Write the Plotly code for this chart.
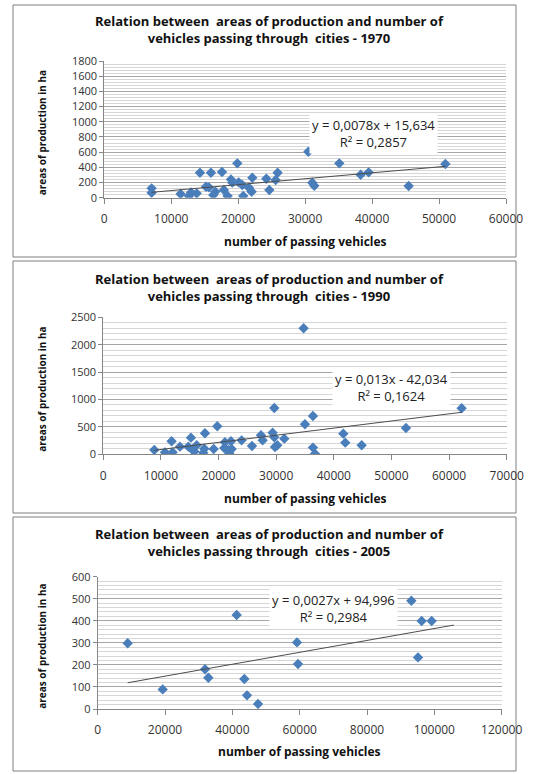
import plotly.graph_objects as go

W, H = 542, 774

# ---------------- data ----------------
x1970 = [7070, 7070, 11400, 12650, 12950, 13800, 14290, 15190, 15630, 15930, 16280, 16580,
         17580, 17870, 18420, 18920, 19120, 19870, 20070, 20610, 20760, 21610, 22010, 22110,
         24200, 24650, 25590, 25890, 30470, 31070, 31370, 35100, 38290, 39480, 45460, 50940]
y1970 = [123, 66, 48, 22, 70, 57, 329, 145, 136, 329, 35, 79,
         338, 101, 22, 241, 198, 452, 202, 167, 22, 132, 79, 263,
         250, 101, 233, 329, 606, 198, 158, 452, 303, 334, 154, 443]

x1990 = [8850, 10700, 12030, 11850, 13300, 15210, 14750, 15500, 16200, 15790, 17350, 17640,
         17530, 19150, 19780, 21110, 20990, 21690, 21860, 22150, 22270, 24000, 25800, 27360,
         27650, 29670, 29380, 29670, 29790, 30190, 31410, 34760, 34990, 36380, 36380, 36730,
         41650, 41990, 44830, 52520, 62180]
y1990 = [79, 36, 36, 237, 140, 304, 140, 79, 164, 49, 30, 383,
         103, 97, 511, 219, 116, 79, 18, 237, 97, 255, 152, 347,
         255, 846, 395, 310, 134, 164, 286, 2299, 547, 699, 122, 12,
         377, 213, 164, 481, 839]

x2005 = [8910, 19300, 31880, 32870, 41280, 43560, 44350, 47620, 59200, 59500,
         93160, 95140, 96230, 99200]
y2005 = [298, 89, 180, 142, 426, 136, 62, 23, 302, 204,
         491, 234, 399, 399]

years = ["1970", "1990", "2005"]
slopes = [0.0078, 0.013, 0.0027]
intercepts = [15.634, -42.034, 94.996]
eq_texts = ["y = 0,0078x + 15,634", "y = 0,013x - 42,034", "y = 0,0027x + 94,996"]
r2_texts = ["R² = 0,2857", "R² = 0,1624", "R² = 0,2984"]
x_ranges = [[0, 60000], [0, 70000], [0, 120000]]
x_dticks = [10000, 10000, 20000]
y_ranges = [[0, 1800], [0, 2500], [0, 600]]
y_dticks = [200, 500, 100]
trend_x_end = [50940, 62180, 105800]

title_tpl = "Relation between  areas of production and number of<br>vehicles passing through  cities - {}"
x_title = "number of passing vehicles"
y_title = "areas of production in ha"

# ---------------- layout geometry (pixels) ----------------
plot_px = [  # left, right, top, bottom
    (104.3, 506.0, 61.0, 197.7),
    (103.3, 506.7, 317.3, 454.3),
    (97.7, 501.7, 576.7, 709.0),
]
panel_px = [(13, 516, 5, 257), (13, 516, 261, 513), (13, 516, 517, 771)]
title_y = [30, 287, 542]
xtitle_y = [241, 498, 751]
box_px = [(373.5, 134), (391.5, 387.5), (333.5, 608)]

def px(x):
    return x / W

def py(y):
    return 1 - y / H

FONT = "Open Sans"
BLUE = "#4A7EBB"
AXIS = "#868686"

fig = go.Figure()
xs = [x1970, x1990, x2005]
ys = [y1970, y1990, y2005]

layout = dict(
    width=W, height=H,
    margin=dict(l=0, r=0, t=0, b=0, autoexpand=False),
    paper_bgcolor="white", plot_bgcolor="white",
    showlegend=False,
    font=dict(family=FONT, color="#222"),
)
annotations = []
shapes = []

for i in range(3):
    sfx = "" if i == 0 else str(i + 1)
    xa, ya = "x" + sfx, "y" + sfx
    fig.add_trace(go.Scatter(
        x=xs[i], y=ys[i], mode="markers", xaxis=xa, yaxis=ya,
        marker=dict(symbol="diamond", size=8, color=BLUE, line=dict(width=0)),
    ))
    x0 = min(xs[i]); x1 = trend_x_end[i]
    fig.add_trace(go.Scatter(
        x=[x0, x1], y=[slopes[i] * x0 + intercepts[i], slopes[i] * x1 + intercepts[i]],
        mode="lines", xaxis=xa, yaxis=ya,
        line=dict(color="#4d4d4d", width=1),
    ))
    l, r, t, b = plot_px[i]
    layout["xaxis" + sfx] = dict(
        domain=[px(l), px(r)], anchor=ya, range=x_ranges[i], dtick=x_dticks[i],
        showgrid=False, zeroline=False, showline=True, linecolor=AXIS, linewidth=1,
        ticks="outside", ticklen=5, tickcolor=AXIS, tickformat="d",
        tickfont=dict(family=FONT, size=12, color="#333"), ticklabelstandoff=5,
        fixedrange=True, automargin=False,
    )
    layout["yaxis" + sfx] = dict(
        domain=[py(b), py(t)], anchor=xa, range=y_ranges[i], dtick=y_dticks[i],
        showgrid=True, gridcolor="#a6a6a6", gridwidth=1,
        minor=dict(dtick=y_dticks[i] / 5, showgrid=True, gridcolor="#d6d6d6", gridwidth=1),
        zeroline=False, showline=True, linecolor=AXIS, linewidth=1,
        ticks="outside", ticklen=4, tickcolor=AXIS, tickformat="d",
        tickfont=dict(family=FONT, size=11, color="#333"),
        fixedrange=True, automargin=False,
    )
    # panel frame
    pl, pr, pt, pb = panel_px[i]
    shapes.append(dict(type="rect", xref="paper", yref="paper",
                       x0=px(pl), x1=px(pr), y0=py(pb), y1=py(pt),
                       line=dict(color="#7f7f7f", width=1), fillcolor="rgba(0,0,0,0)",
                       layer="below"))
    # chart title
    annotations.append(dict(
        text="<b>" + title_tpl.format(years[i]) + "</b>",
        xref="paper", yref="paper", x=px(269), y=py(title_y[i]),
        xanchor="center", yanchor="middle", showarrow=False, align="center",
        font=dict(family=FONT, size=13, color="#111"),
    ))
    # x title
    annotations.append(dict(
        text="<b>" + x_title + "</b>", xref="paper", yref="paper",
        x=px((l + r) / 2), y=py(xtitle_y[i]), xanchor="center", yanchor="middle",
        showarrow=False, font=dict(family=FONT, size=12, color="#111"),
    ))
    # y title
    annotations.append(dict(
        text="<b>" + y_title + "</b>", xref="paper", yref="paper",
        x=px(42), y=py((t + b) / 2 + 4), xanchor="center", yanchor="middle",
        textangle=-90, showarrow=False, font=dict(family=FONT, size=10, color="#111"),
    ))
    # trendline equation box
    bx, by = box_px[i]
    annotations.append(dict(
        text=eq_texts[i] + "<br>" + r2_texts[i], xref="paper", yref="paper",
        x=px(bx), y=py(by), xanchor="center", yanchor="middle", showarrow=False,
        align="center", bgcolor="white", borderpad=2,
        font=dict(family=FONT, size=13, color="#222"),
    ))

layout["annotations"] = annotations
layout["shapes"] = shapes
fig.update_layout(**layout)
fig.write_html("out.html", config={"displayModeBar": False},
               post_script="document.body.style.margin='0';")
